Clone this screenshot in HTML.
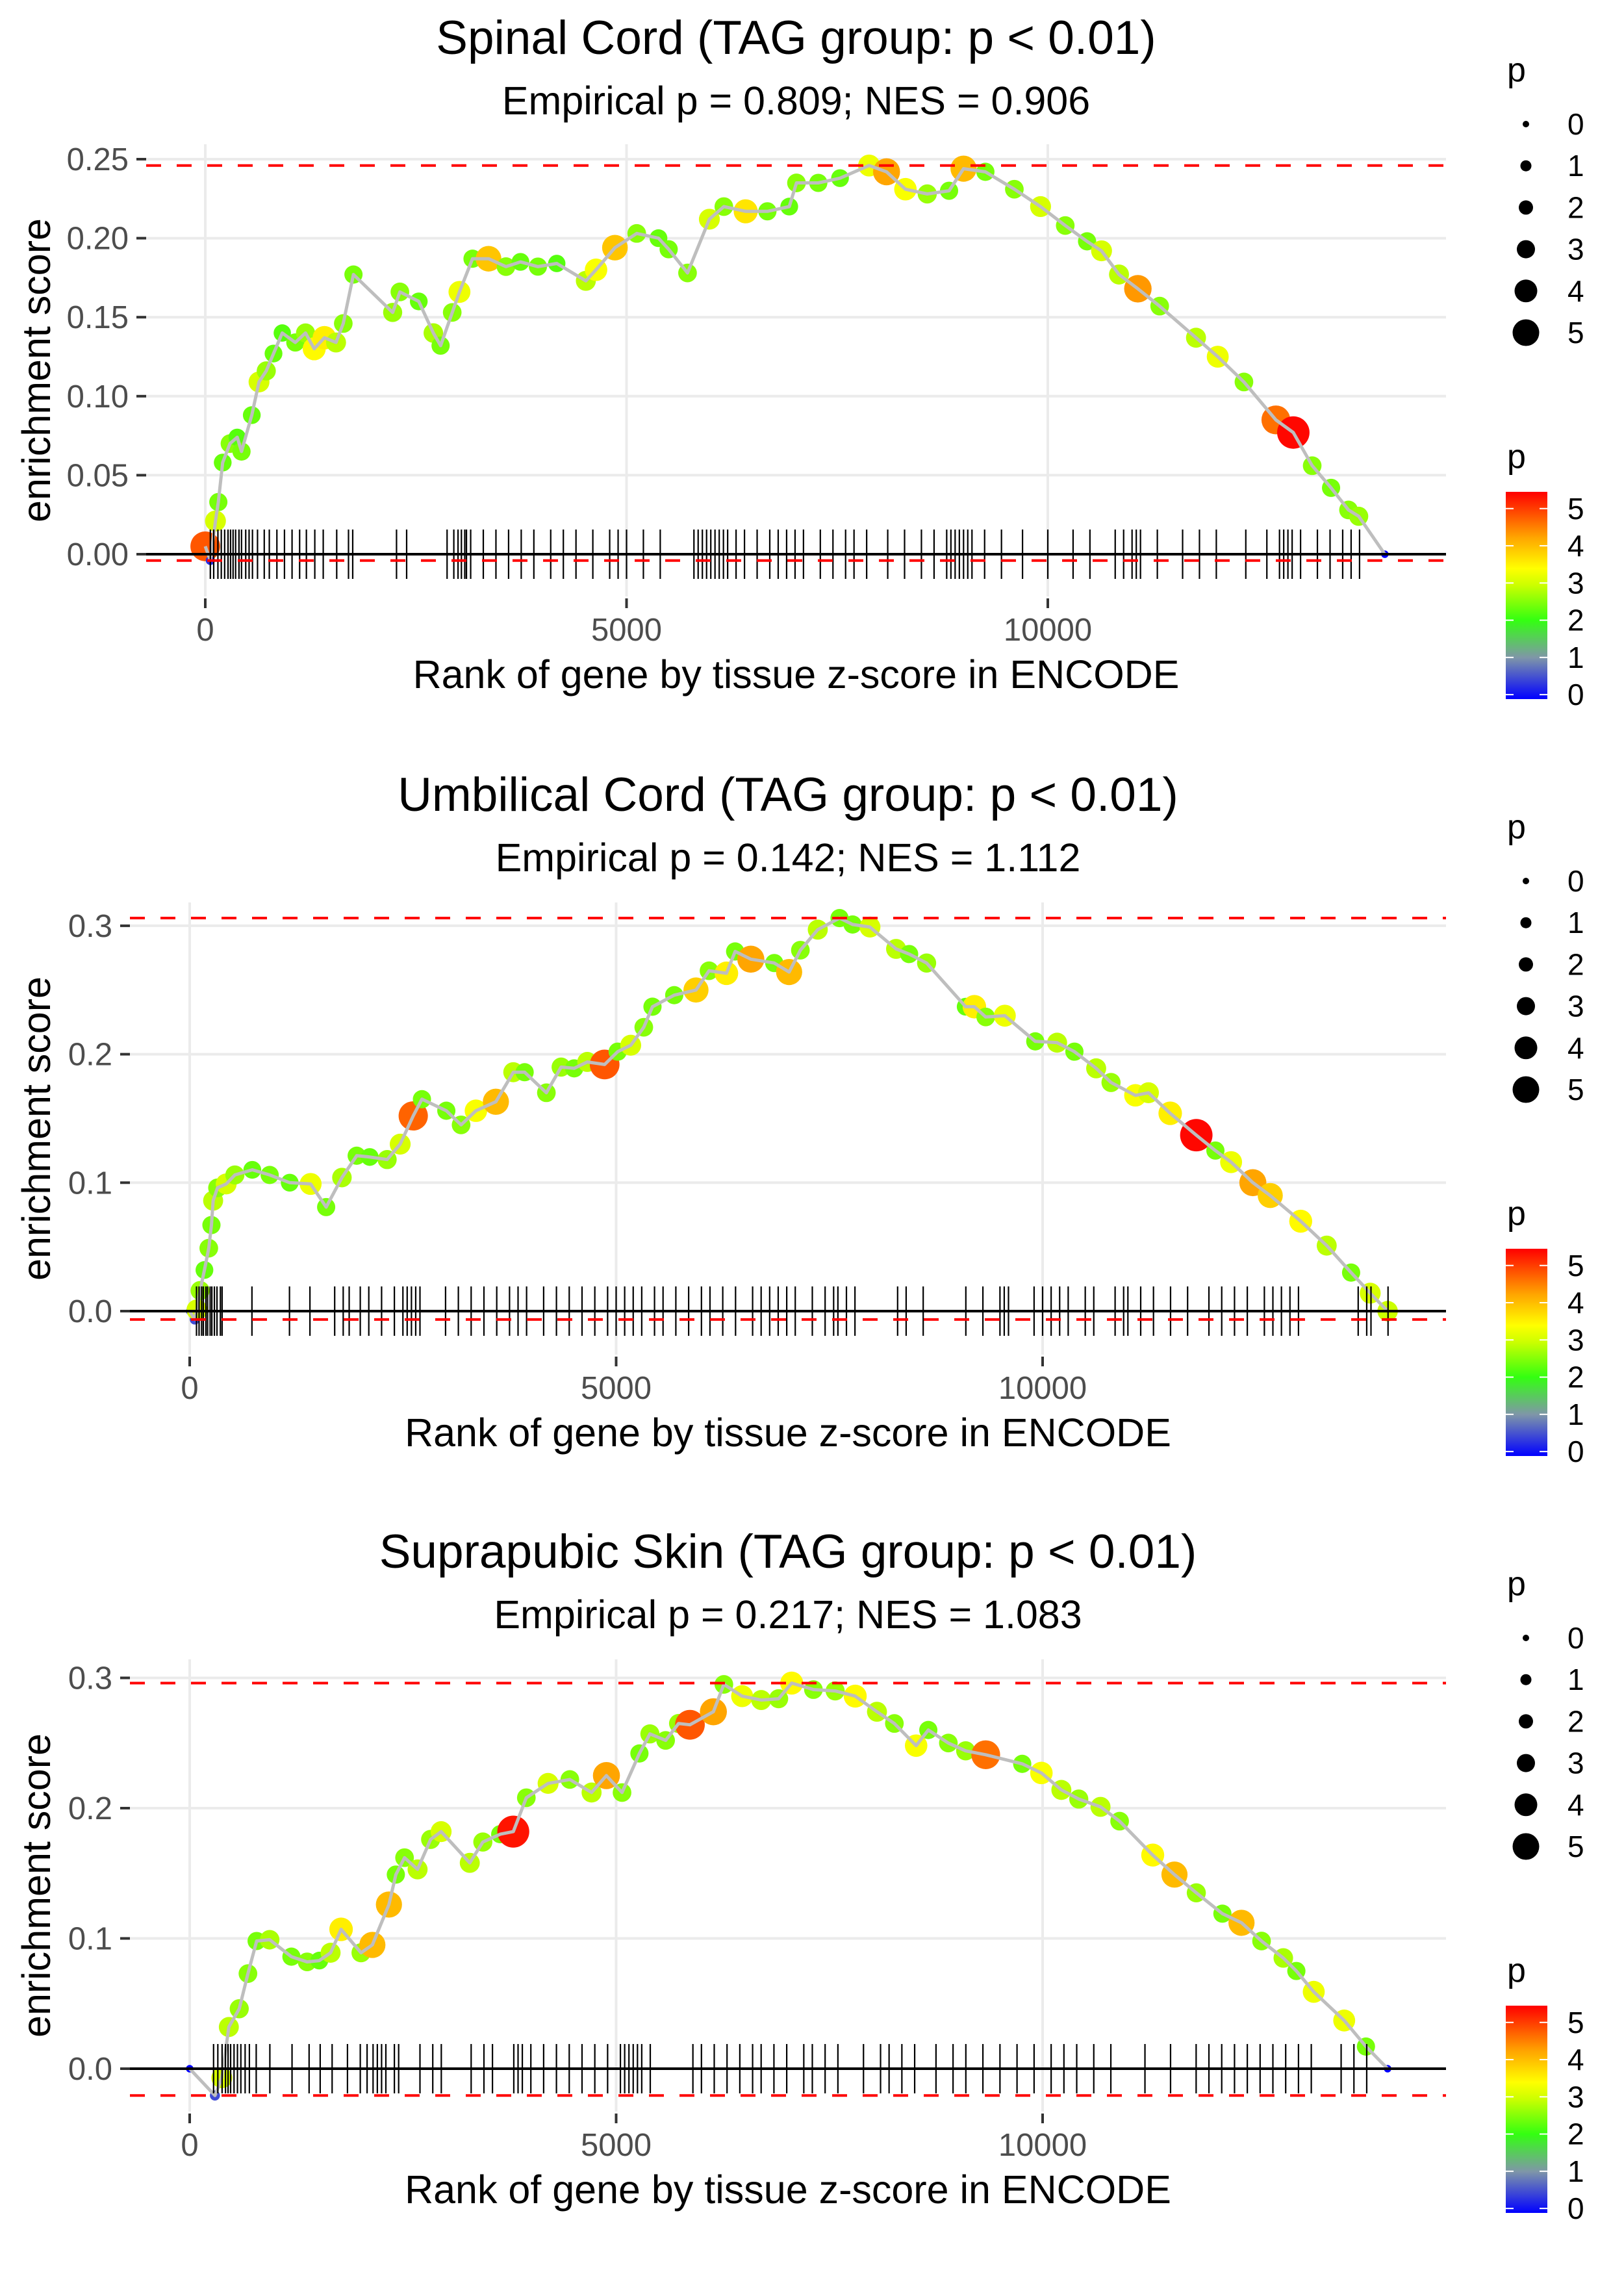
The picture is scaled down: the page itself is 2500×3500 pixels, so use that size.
<!DOCTYPE html>
<html><head><meta charset="utf-8">
<style>
html,body{margin:0;padding:0;background:#fff;}
svg{display:block;font-family:"Liberation Sans",Arial,sans-serif;}
</style></head>
<body>
<svg id="fig" width="2500" height="3500" viewBox="0 0 2500 3500" xmlns="http://www.w3.org/2000/svg">
<defs>
<linearGradient id="pgrad" x1="0" y1="1" x2="0" y2="0">
<stop offset="0" stop-color="#0000ff"/>
<stop offset="0.2" stop-color="#7f96a8"/>
<stop offset="0.38" stop-color="#33ff11"/>
<stop offset="0.55" stop-color="#ccff00"/>
<stop offset="0.63" stop-color="#ffff00"/>
<stop offset="0.78" stop-color="#ffa500"/>
<stop offset="1" stop-color="#ff0000"/>
</linearGradient>
</defs>
</svg>
<script>
// ---- Panel 1: Spinal Cord ----
const ranks1=[0,60,121,155,207,293,379,430,552,638,724,810,914,1069,1190,1293,1414,1552,1638,1759,2224,2310,2534,2707,2793,2931,3017,3172,3362,3569,3741,3948,4172,4517,4638,4862,5121,5379,5500,5724,5983,6155,6414,6672,6931,7017,7276,7534,7879,8086,8310,8569,8828,9000,9259,9603,9914,10207,10466,10638,10845,11069,11328,11759,12017,12328,12707,12914,13138,13362,13569,13690,14000];
const es1=[0.005,-0.004,0.021,0.033,0.058,0.070,0.074,0.065,0.088,0.109,0.116,0.127,0.140,0.134,0.140,0.130,0.137,0.134,0.146,0.177,0.153,0.166,0.160,0.140,0.132,0.153,0.166,0.187,0.187,0.182,0.185,0.182,0.184,0.173,0.180,0.194,0.203,0.200,0.193,0.178,0.212,0.220,0.217,0.217,0.220,0.235,0.235,0.238,0.246,0.242,0.231,0.228,0.230,0.244,0.242,0.231,0.220,0.208,0.198,0.192,0.177,0.168,0.157,0.137,0.125,0.109,0.085,0.077,0.056,0.042,0.028,0.024,0];
const pval1=[4.8,0.3,3.0,2.4,2.3,2.5,2.2,2.4,2.3,3.0,2.6,2.3,2.2,2.4,2.6,3.4,3.5,2.8,2.5,2.4,2.6,2.5,2.3,2.7,2.4,2.5,3.2,2.4,3.9,2.5,2.3,2.4,2.2,2.8,3.3,3.9,2.5,2.3,2.4,2.5,3.0,2.5,3.6,2.4,2.3,2.5,2.4,2.3,3.2,4.2,3.3,2.6,2.4,4.0,2.4,2.5,3.0,2.5,2.4,3.0,2.8,4.3,2.5,2.8,3.2,2.5,4.6,5.4,2.5,2.4,2.5,2.6,0];
const rug1=[60,100,150,190,230,270,300,330,360,400,430,480,520,560,620,700,760,850,940,1030,1120,1200,1300,1400,1560,1700,1750,2270,2390,2870,2950,3000,3040,3080,3100,3150,3300,3450,3600,3750,3900,4100,4250,4400,4600,4800,4900,5000,5200,5400,5800,5850,5900,5950,6000,6050,6100,6150,6200,6300,6400,6550,6700,6800,6900,7000,7100,7300,7450,7600,7700,7850,8100,8300,8500,8650,8800,8850,8900,8950,9000,9050,9100,9250,9450,9700,10000,10300,10500,10800,10900,11000,11050,11100,11300,11600,11800,12000,12350,12600,12750,12800,12850,12900,13000,13200,13350,13500,13600,13700];
const yTicks1=[0,0.05,0.10,0.15,0.20,0.25];
const yTickLabels1=["0.00","0.05","0.10","0.15","0.20","0.25"];
const title1="Spinal Cord (TAG group: p < 0.01)";
const subtitle1="Empirical p = 0.809; NES = 0.906";

// ---- Panel 2: Umbilical Cord ----
const ranks2=[0,60,85,122,173,224,255,275,326,428,530,734,938,1173,1418,1600,1785,1958,2111,2315,2468,2621,2723,3009,3182,3356,3590,3794,3927,4182,4355,4508,4661,4865,5018,5171,5324,5426,5681,5936,6089,6293,6395,6579,6854,7028,7160,7364,7619,7772,7976,8282,8435,8640,9098,9200,9333,9557,9914,10170,10373,10628,10802,11088,11241,11496,11802,12026,12210,12465,12669,13026,13331,13617,13841,14045];
const es2=[0,-0.0065,0.001,0.016,0.032,0.049,0.067,0.086,0.096,0.099,0.106,0.110,0.106,0.100,0.099,0.081,0.104,0.121,0.120,0.118,0.130,0.152,0.165,0.156,0.145,0.156,0.163,0.186,0.186,0.170,0.190,0.189,0.194,0.192,0.202,0.207,0.221,0.237,0.246,0.250,0.265,0.263,0.280,0.274,0.271,0.264,0.281,0.297,0.306,0.301,0.299,0.282,0.278,0.271,0.237,0.237,0.229,0.230,0.210,0.209,0.202,0.189,0.178,0.168,0.170,0.154,0.137,0.125,0.116,0.100,0.090,0.070,0.051,0.030,0.014,0];
const pval2=[0,0.5,3.0,2.6,2.3,2.5,2.4,2.8,2.5,3.0,2.6,2.3,2.4,2.3,3.2,2.4,2.7,2.4,2.3,2.6,3.0,4.7,2.4,2.4,2.5,3.3,4.0,2.8,2.4,2.5,2.6,2.4,2.8,4.8,2.4,3.0,2.5,2.4,2.4,3.8,2.5,3.5,2.4,4.2,2.4,4.0,2.5,2.8,2.4,2.4,3.0,2.8,2.4,2.6,2.3,3.5,2.5,3.2,2.4,2.8,2.4,2.8,2.6,3.3,3.0,3.5,5.4,2.4,3.2,4.2,3.8,3.4,2.8,2.4,3.0,2.9];
const rug2=[80,110,140,160,190,210,240,260,290,320,360,380,730,1170,1410,1700,1800,1870,2000,2100,2250,2400,2500,2550,2600,2650,2700,3000,3150,3300,3450,3600,3750,3850,3950,4150,4300,4450,4600,4750,4900,5000,5100,5200,5300,5450,5550,5700,5850,6000,6100,6250,6400,6600,6700,6800,6900,7000,7100,7300,7450,7550,7600,7700,7800,8300,8400,8600,9100,9300,9500,9550,9600,9900,10000,10100,10200,10300,10500,10600,10850,10950,11000,11150,11300,11500,11700,11950,12100,12250,12400,12600,12700,12800,12900,13000,13700,13800,13850,14050];
const yTicks2=[0,0.1,0.2,0.3];
const yTickLabels2=["0.0","0.1","0.2","0.3"];
const title2="Umbilical Cord (TAG group: p < 0.01)";
const subtitle2="Empirical p = 0.142; NES = 1.112";

// ---- Panel 3: Suprapubic Skin ----
const ranks3=[0,296,377,459,581,683,785,938,1193,1377,1520,1652,1775,2009,2142,2336,2417,2519,2672,2825,2948,3284,3437,3641,3794,3947,4202,4457,4712,4886,5069,5273,5396,5580,5732,5865,6140,6263,6477,6701,6905,7058,7313,7568,7803,8058,8262,8517,8660,8895,9098,9333,9761,9986,10220,10424,10679,10903,11291,11546,11802,12108,12332,12567,12822,12975,13179,13536,13791,14045];
const es3=[0,-0.0206,-0.007,0.032,0.046,0.073,0.098,0.099,0.086,0.082,0.083,0.089,0.107,0.089,0.095,0.126,0.149,0.162,0.153,0.176,0.182,0.158,0.174,0.180,0.182,0.208,0.219,0.222,0.212,0.225,0.212,0.242,0.257,0.252,0.265,0.264,0.274,0.295,0.286,0.283,0.284,0.296,0.291,0.290,0.286,0.274,0.265,0.248,0.260,0.250,0.244,0.241,0.234,0.227,0.214,0.207,0.201,0.190,0.164,0.149,0.135,0.119,0.112,0.098,0.085,0.075,0.059,0.037,0.017,0];
const pval3=[0,0.5,3.0,2.8,2.6,2.5,2.4,2.7,2.4,2.5,2.3,2.8,3.5,2.6,4.0,4.0,2.4,2.5,2.8,2.6,3.0,2.8,2.6,2.4,5.3,2.5,3.0,2.5,2.8,4.2,2.5,2.4,2.6,2.5,2.6,4.8,4.2,2.5,3.2,2.8,2.6,3.4,2.5,2.6,3.4,2.8,2.5,3.3,2.4,2.5,2.6,4.6,2.4,3.3,2.8,2.6,2.8,2.5,3.4,4.0,2.6,2.4,4.0,2.5,2.7,2.4,3.2,3.2,2.4,0];
const rug3=[280,330,380,420,450,480,520,560,600,650,700,780,940,1200,1400,1530,1670,1850,2000,2080,2150,2200,2250,2300,2400,2450,2700,2850,2950,3300,3450,3550,3800,3850,3900,4000,4150,4300,4450,4600,4750,4900,5050,5100,5150,5200,5250,5300,5400,5900,6000,6150,6300,6450,6600,6700,6850,7000,7200,7300,7450,7600,7900,8100,8200,8350,8500,8750,8950,9100,9300,9500,9700,9900,10100,10250,10400,10600,10800,11200,11500,11800,11950,12100,12250,12400,12550,12700,12850,13000,13150,13500,13650,13800];
const yTicks3=[0,0.1,0.2,0.3];
const yTickLabels3=["0.0","0.1","0.2","0.3"];
const title3="Suprapubic Skin (TAG group: p < 0.01)";
const subtitle3="Empirical p = 0.217; NES = 1.083";

// shared
const xTicks=[0,5000,10000];
const xTickLabels=["0","5000","10000"];
const legendSizes=[0,1,2,3,4,5];
const colorbarTicks=[0,1,2,3,4,5];

const NS="http://www.w3.org/2000/svg";
const svg=document.getElementById('fig');
function mk(tag,attrs,parent){const e=document.createElementNS(NS,tag);for(const k in attrs)e.setAttribute(k,attrs[k]);(parent||svg).appendChild(e);return e;}

const cstops=[[0,[0,0,255]],[1.0,[127,150,168]],[2.0,[51,255,17]],[2.9,[204,255,0]],[3.35,[255,255,0]],[4.2,[255,165,0]],[5.45,[255,0,0]]];
function pColor(p){
  if(p<=cstops[0][0])return 'rgb(0,0,255)';
  for(let i=1;i<cstops.length;i++){
    if(p<=cstops[i][0]){const a=cstops[i-1],b=cstops[i];const t=(p-a[0])/(b[0]-a[0]);
      const c=a[1].map((v,j)=>Math.round(v+(b[1][j]-v)*t));return 'rgb('+c.join(',')+')';}
  }
  return 'rgb(255,0,0)';
}
const diam=[10,17,22,28,35,41];
function pRadius(p){const q=Math.max(0,Math.min(5.4,p));const i=Math.min(4,Math.floor(q));return (diam[i]+(diam[i+1]-diam[i])*(q-i))/2;}

function drawPanel(cfg){
  const g=mk('g',{});
  
  
  const X=r=>cfg.x0+r*cfg.xPer;
  const Y=v=>cfg.y0-v*cfg.yPer;
  cfg.yTicks.forEach((t,i)=>{
    const l=mk('line',{x1:cfg.left,x2:cfg.right,y1:Y(t),y2:Y(t),stroke:'#ebebeb','stroke-width':4},g);
    
    
    const tk=mk('line',{x1:cfg.left-15,x2:cfg.left,y1:Y(t),y2:Y(t),stroke:'#333','stroke-width':4},g);
    
    
    const tx=mk('text',{x:cfg.left-27,y:Y(t)+17,'text-anchor':'end','font-size':49,fill:'#4d4d4d'},g);
    tx.textContent=cfg.yLabels[i];
    
    
  });
  xTicks.forEach((t,i)=>{
    const l=mk('line',{x1:X(t),x2:X(t),y1:cfg.top,y2:cfg.bottom,stroke:'#ebebeb','stroke-width':4},g);
    
    
    const tk=mk('line',{x1:X(t),x2:X(t),y1:cfg.bottom+3,y2:cfg.bottom+18,stroke:'#333','stroke-width':4},g);
    
    
    const tx=mk('text',{x:X(t),y:cfg.bottom+68,'text-anchor':'middle','font-size':49,fill:'#4d4d4d'},g);
    tx.textContent=xTickLabels[i];
    
    
  });
  cfg.ranks.forEach((r,i)=>{
    const c=mk('circle',{cx:X(r),cy:Y(cfg.es[i]),r:pRadius(cfg.p[i])*1.15,fill:pColor(cfg.p[i])},g);
    
    
  });
  let d='';
  cfg.ranks.forEach((r,i)=>{d+=(i?'L':'M')+X(r).toFixed(1)+','+Y(cfg.es[i]).toFixed(1);});
  const pl=mk('path',{d:d,fill:'none',stroke:'#bebebe','stroke-width':5,'stroke-linejoin':'round'},g);
  
  
  const z=mk('line',{x1:cfg.left,x2:cfg.right,y1:Y(0),y2:Y(0),stroke:'#000','stroke-width':4},g);
  
  
  cfg.rug.forEach(r=>{
    const t=mk('line',{x1:X(r),x2:X(r),y1:Y(0)-38,y2:Y(0)+38,stroke:'#000','stroke-width':2.2},g);
    
    
  });
  const mx=Math.max(...cfg.es), mn=Math.min(...cfg.es);
  const d1=mk('line',{x1:cfg.left,x2:cfg.right,y1:Y(mx),y2:Y(mx),stroke:'#ff0000','stroke-width':4,'stroke-dasharray':'23 24'},g);
  
  
  const d2=mk('line',{x1:cfg.left,x2:cfg.right,y1:Y(mn),y2:Y(mn),stroke:'#ff0000','stroke-width':4,'stroke-dasharray':'23 24'},g);
  
  
  const cx=(cfg.left+cfg.right)/2;
  const t1=mk('text',{x:cx,y:cfg.off+83,'text-anchor':'middle','font-size':73,fill:'#000'},g);
  t1.textContent=cfg.title;
  
  
  const t2=mk('text',{x:cx,y:cfg.off+176,'text-anchor':'middle','font-size':61,fill:'#000'},g);
  t2.textContent=cfg.subtitle;
  
  
  const xt=mk('text',{x:cx,y:cfg.bottom+141,'text-anchor':'middle','font-size':61,fill:'#000'},g);
  xt.textContent='Rank of gene by tissue z-score in ENCODE';
  
  
  const ymid=(cfg.top+cfg.bottom)/2;
  const yt=mk('text',{x:77,y:ymid,'text-anchor':'middle','font-size':61,fill:'#000',transform:'rotate(-90 77 '+ymid+')'},g);
  yt.textContent='enrichment score';
  
  
  const o=cfg.off;
  const sp=mk('text',{x:2320,y:o+125,'font-size':52,fill:'#000'},g);
  sp.textContent='p';
  
  
  legendSizes.forEach((s,i)=>{
    const yy=o+191+i*64.2;
    const c=mk('circle',{cx:2349,cy:yy,r:pRadius(s),fill:'#000'},g);
    
    
    const tx=mk('text',{x:2413,y:yy+16,'font-size':46,fill:'#000'},g);
    tx.textContent=String(s);
    
    
  });
  const cp=mk('text',{x:2320,y:o+720,'font-size':52,fill:'#000'},g);
  cp.textContent='p';
  
  
  const cbTop=o+757, cbBot=o+1076;
  const cb=mk('rect',{x:2318,y:cbTop,width:64,height:cbBot-cbTop,fill:'url(#pgrad)'},g);
  
  
  const vTop=5.45, vBot=-0.12;
  colorbarTicks.forEach(v=>{
    const yy=cbTop+(vTop-v)/(vTop-vBot)*(cbBot-cbTop);
    const a=mk('line',{x1:2318,x2:2330,y1:yy,y2:yy,stroke:'#fff','stroke-width':2},g);
    
    
    const b=mk('line',{x1:2370,x2:2382,y1:yy,y2:yy,stroke:'#fff','stroke-width':2},g);
    
    
    const tx=mk('text',{x:2413,y:yy+16,'font-size':46,fill:'#000'},g);
    tx.textContent=String(v);
    
    
  });
}

drawPanel({name:'panel-spinal-cord',off:0,left:225,right:2226,top:222,bottom:918,x0:316,xPer:0.1297,y0:853,yPer:2432,
  ranks:ranks1,es:es1,p:pval1,rug:rug1,yTicks:yTicks1,yLabels:yTickLabels1,title:title1,subtitle:subtitle1});
drawPanel({name:'panel-umbilical-cord',off:1165,left:200,right:2226,top:1389,bottom:2085,x0:292,xPer:0.1313,y0:2018,yPer:1977,
  ranks:ranks2,es:es2,p:pval2,rug:rug2,yTicks:yTicks2,yLabels:yTickLabels2,title:title2,subtitle:subtitle2});
drawPanel({name:'panel-suprapubic-skin',off:2330,left:200,right:2226,top:2554,bottom:3250,x0:292,xPer:0.1313,y0:3184,yPer:2005,
  ranks:ranks3,es:es3,p:pval3,rug:rug3,yTicks:yTicks3,yLabels:yTickLabels3,title:title3,subtitle:subtitle3});
</script>
</body></html>
